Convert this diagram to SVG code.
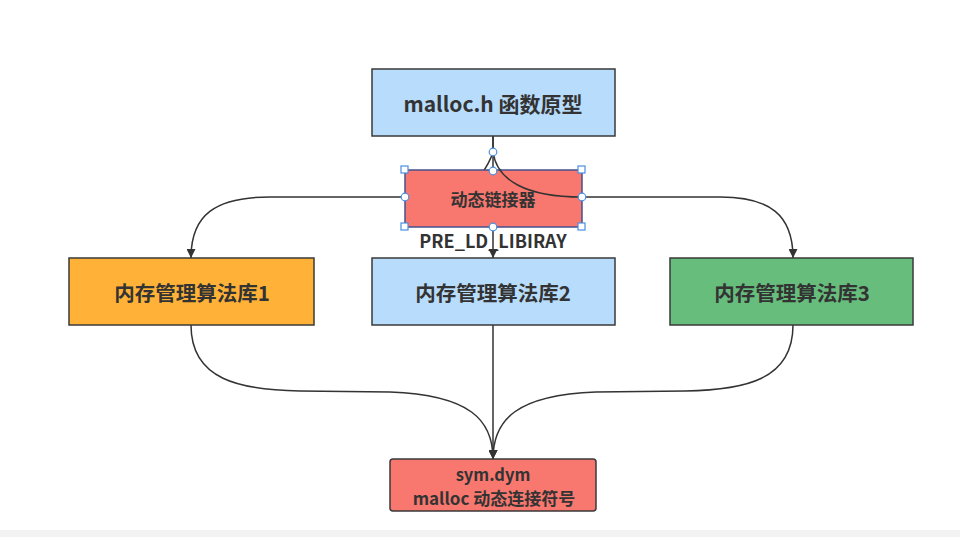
<svg xmlns="http://www.w3.org/2000/svg" width="960" height="537" viewBox="0 0 960 537">
<style>
.box{stroke:#3a3a3a;stroke-width:1.5}
.t{font-family:"Noto Sans CJK SC","Liberation Sans",sans-serif;font-weight:bold;fill:#333;text-anchor:middle;dominant-baseline:central}
.e{fill:none;stroke:#333;stroke-width:1.5}
.h{fill:#fff;stroke:#4a8fe0;stroke-width:1.2}
</style>
<defs>
<marker id="arr" viewBox="0 0 10 10" refX="10" refY="5" markerWidth="9" markerHeight="9" markerUnits="userSpaceOnUse" orient="auto">
<path d="M0,0 L10,5 L0,10 z" fill="#333"/>
</marker>
</defs>
<rect x="0" y="0" width="960" height="537" fill="#fff"/>
<rect x="0" y="530" width="960" height="7" fill="#f2f2f2"/>

<g id="connectors">
<path class="e" d="M493,136 L493,258" marker-end="url(#arr)"/>
<path class="e" d="M493,136 L493,152 C490,162 486,168 480,176 C470,192 450,197 420,197 L270,197 C215,197 191,215 191,258" marker-end="url(#arr)"/>
<path class="e" d="M191,325 C191,380 240,390 300,391 L390,392 C470,395 493,420 493,459" marker-end="url(#arr)"/>
<path class="e" d="M493,325 L493,459" marker-end="url(#arr)"/>
<path class="e" d="M793,325 C793,380 745,390 685,391 L596,392 C516,395 493,420 493,459" marker-end="url(#arr)"/>
</g>

<g id="n-top">
<rect class="box" x="372" y="69" width="243" height="67" fill="#b8dcfb"/>
<text class="t" x="493" y="103" font-size="21">malloc.h 函数原型</text>
</g>

<g id="n-linker">
<rect x="405" y="170" width="177" height="57" fill="#f8776e" stroke="#45508e" stroke-width="1.5"/>
<text class="t" x="493" y="198" font-size="17">动态链接器</text>
</g>

<g id="connector-over">
<path class="e" d="M493,152 C497,180 525,197 582,197 L720,197 C770,197 793,215 793,258" marker-end="url(#arr)"/>
</g>

<g id="selection-handles">
<circle class="h" cx="493" cy="152" r="3.8"/>
<circle class="h" cx="493" cy="171" r="3.8"/>
<circle class="h" cx="493" cy="227" r="3.8"/>
<circle class="h" cx="405" cy="197" r="3.8"/>
<circle class="h" cx="582" cy="197" r="3.8"/>
<rect class="h" x="401" y="166" width="7" height="7"/>
<rect class="h" x="578" y="166" width="7" height="7"/>
<rect class="h" x="401" y="223" width="7" height="7"/>
<rect class="h" x="578" y="223" width="7" height="7"/>
</g>

<g id="label-preld">
<text class="t" x="493" y="240" font-size="18">PRE_LD_LIBIRAY</text>
</g>

<g id="n-lib1">
<rect class="box" x="69" y="258" width="245" height="67" fill="#ffb237"/>
<text class="t" x="192" y="292" font-size="20.5">内存管理算法库1</text>
</g>
<g id="n-lib2">
<rect class="box" x="372" y="258" width="243" height="67" fill="#b8dcfb"/>
<text class="t" x="493" y="292" font-size="20.5">内存管理算法库2</text>
</g>
<g id="n-lib3">
<rect class="box" x="670" y="258" width="243" height="67" fill="#67bd7c"/>
<text class="t" x="792" y="292" font-size="20.5">内存管理算法库3</text>
</g>

<g id="n-sym">
<rect class="box" x="390" y="459" width="206" height="52" rx="3" fill="#f8776e"/>
<text class="t" x="493" y="474" font-size="16.5">sym.dym</text>
<text class="t" x="494" y="497" font-size="17">malloc 动态连接符号</text>
</g>
</svg>
